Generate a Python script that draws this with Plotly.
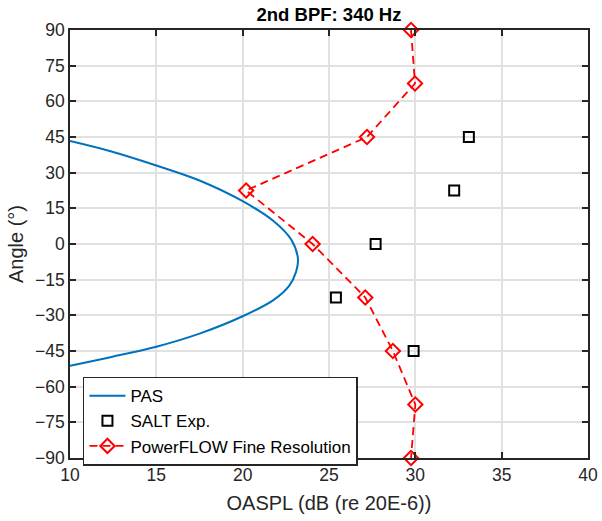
import plotly.graph_objects as go

# PAS prediction
pas_angle = [43.3, 38.9, 33.0, 26.7, 18.0, 9.6, 2.0, -6.0, -11.5, -17.5, -23.5, -30.4, -37.7, -43.2, -47.5, -51.2]
pas_oaspl = [10.0, 12.4, 15.0, 17.5, 20.0, 21.8, 22.8, 23.2, 23.1, 22.7, 21.8, 20.0, 17.5, 15.0, 12.4, 10.0]

# SALT experiment
salt_angle = [45, 22.5, 0, -22.5, -45]
salt_oaspl = [33.1, 32.25, 27.7, 25.4, 29.9]

# PowerFLOW fine resolution
pf_angle = [90, 67.5, 45, 22.5, 0, -22.5, -45, -67.5, -90]
pf_oaspl = [29.75, 29.98, 27.2, 20.2, 24.05, 27.1, 28.7, 30.0, 29.75]

xticks = [10, 15, 20, 25, 30, 35, 40]
yticks = [90, 75, 60, 45, 30, 15, 0, -15, -30, -45, -60, -75, -90]

FONT = "Liberation Sans, Arial"

fig = go.Figure()
fig.add_trace(go.Scatter(x=pas_oaspl, y=pas_angle, mode="lines", name="PAS",
                         line=dict(color="#0072BD", width=2, shape="spline", smoothing=1.0)))
fig.add_trace(go.Scatter(x=salt_oaspl, y=salt_angle, mode="markers", name="SALT Exp.",
                         marker=dict(symbol="square-open", color="black", size=10,
                                     line=dict(width=2, color="black"))))
fig.add_trace(go.Scatter(x=pf_oaspl, y=pf_angle, mode="lines+markers",
                         name="PowerFLOW Fine Resolution",
                         line=dict(color="red", width=1.8, dash="8px,5px"),
                         marker=dict(symbol="diamond-open", color="red", size=11,
                                     line=dict(width=2, color="red")),
                         cliponaxis=False))

axis_common = dict(showgrid=True, gridcolor="#e1e1e1", gridwidth=1.5,
                   showline=True, linecolor="#262626", linewidth=1.5, mirror="ticks",
                   ticks="inside", ticklen=6, tickwidth=1.5, tickcolor="#262626",
                   zeroline=False, automargin=False,
                   tickfont=dict(family=FONT, size=17.5, color="#262626"))

fig.update_layout(
    width=602, height=521,
    margin=dict(l=70, r=14, t=30, b=63),
    paper_bgcolor="white", plot_bgcolor="white",
    title=dict(text="<b>2nd BPF: 340 Hz</b>", x=(70 + 588) / 2 / 602, xanchor="center",
               y=1 - 15 / 521, yanchor="middle",
               font=dict(family=FONT, size=18.5, color="black"), automargin=False),
    xaxis=dict(range=[10, 40], tickvals=xticks,
               title=dict(text="OASPL (dB (re 20E-6))", standoff=12,
                          font=dict(family=FONT, size=20, color="#262626")),
               **axis_common),
    yaxis=dict(range=[-90, 90], tickvals=yticks,
               title=dict(text="Angle (°)", standoff=6,
                          font=dict(family=FONT, size=20, color="#262626")),
               **axis_common),
    legend=dict(x=0.025, y=0.19, xanchor="left", yanchor="top",
                bgcolor="white", bordercolor="#262626", borderwidth=1.5,
                font=dict(family=FONT, size=17, color="black"),
                tracegroupgap=0, itemwidth=36),
    showlegend=True,
)

fig.write_html("out.html")
